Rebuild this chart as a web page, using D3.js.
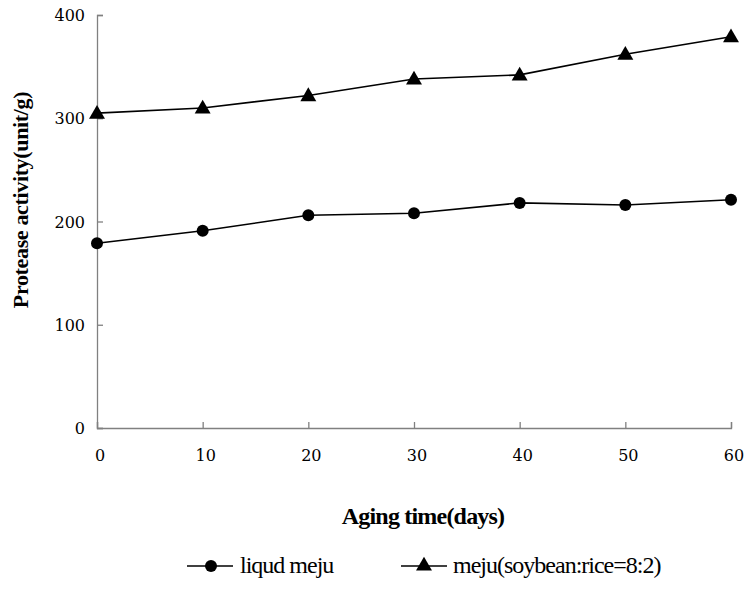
<!DOCTYPE html>
<html><head><meta charset="utf-8">
<script src="https://cdn.jsdelivr.net/npm/d3@7"></script>
<style>body{margin:0;background:#fff}</style>
</head><body>
<svg id="c" width="753" height="590"></svg>
<script>
const days = [0, 10, 20, 30, 40, 50, 60];
const liquidMeju = [179, 191, 206, 208, 218, 216, 221];
const mejuSoyRice = [305, 310, 322, 338, 342, 362, 379];
const yTicks = [0, 100, 200, 300, 400];
const xTicks = [0, 10, 20, 30, 40, 50, 60];
const seriesNames = ["liqud meju", "meju(soybean:rice=8:2)"];

const svg = d3.select("#c");
const x = d3.scaleLinear().domain([0, 60]).range([97, 731]);
const y = d3.scaleLinear().domain([0, 400]).range([428, 15]);
const serif = "'Liberation Serif','Times New Roman',serif";
const digitFont = "'DejaVu Serif',serif";

const yAxis = svg.append("g").attr("transform", "translate(97,0)")
  .call(d3.axisRight(y).tickValues(yTicks).tickSize(6).tickFormat(""));
const xAxis = svg.append("g").attr("transform", "translate(0,428)")
  .call(d3.axisTop(x).tickValues(xTicks).tickSize(6).tickFormat(""));
[yAxis, xAxis].forEach(a => {
  a.select(".domain").attr("stroke", "#808080").attr("stroke-width", 1.3);
  a.selectAll(".tick line").attr("stroke", "#808080").attr("stroke-width", 1.3);
});

svg.selectAll(".ylab").data(yTicks).enter().append("text")
  .attr("x", 85).attr("y", d => y(d) + 6).attr("text-anchor", "end")
  .attr("font-family", digitFont).attr("font-size", 16).text(d => d);
svg.selectAll(".xlab").data(xTicks).enter().append("text")
  .attr("x", d => x(d) + 3).attr("y", 461).attr("text-anchor", "middle")
  .attr("font-family", digitFont).attr("font-size", 16).text(d => d);

svg.append("text").attr("x", 423).attr("y", 524).attr("text-anchor", "middle")
  .attr("font-family", serif).attr("font-size", 24).attr("font-weight", "bold")
  .attr("letter-spacing", -0.8).text("Aging time(days)");
svg.append("text").attr("transform", "translate(28,200) rotate(-90)")
  .attr("text-anchor", "middle")
  .attr("font-family", serif).attr("font-size", 22).attr("font-weight", "bold")
  .attr("letter-spacing", -0.35).text("Protease activity(unit/g)");

const line = d3.line().x((d, i) => x(days[i])).y(d => y(d));
const tri = d3.symbol().type(d3.symbolTriangle).size(110);

svg.append("path").datum(mejuSoyRice).attr("d", line)
  .attr("fill", "none").attr("stroke", "#000").attr("stroke-width", 1.6);
svg.append("path").datum(liquidMeju).attr("d", line)
  .attr("fill", "none").attr("stroke", "#000").attr("stroke-width", 1.6);

svg.selectAll(".c").data(liquidMeju).enter().append("circle")
  .attr("cx", (d, i) => x(days[i])).attr("cy", d => y(d)).attr("r", 6).attr("fill", "#000");
svg.selectAll(".t").data(mejuSoyRice).enter().append("path")
  .attr("d", tri).attr("transform", (d, i) => `translate(${x(days[i])},${y(d) + 1})`).attr("fill", "#000");

// legend
const lg = [{x0: 187, tx: 240, name: seriesNames[0], sym: "c"}, {x0: 401, tx: 453, name: seriesNames[1], sym: "t"}];
lg.forEach(l => {
  svg.append("line").attr("x1", l.x0).attr("x2", l.x0 + 46).attr("y1", 566).attr("y2", 566)
    .attr("stroke", "#000").attr("stroke-width", 1.6);
  if (l.sym === "c") svg.append("circle").attr("cx", l.x0 + 24).attr("cy", 566).attr("r", 6);
  else svg.append("path").attr("d", tri).attr("transform", `translate(${l.x0 + 23},566)`);
  svg.append("text").attr("x", l.tx).attr("y", 573)
    .attr("font-family", serif).attr("font-size", 24).attr("letter-spacing", -1).text(l.name);
});
</script>
</body></html>
